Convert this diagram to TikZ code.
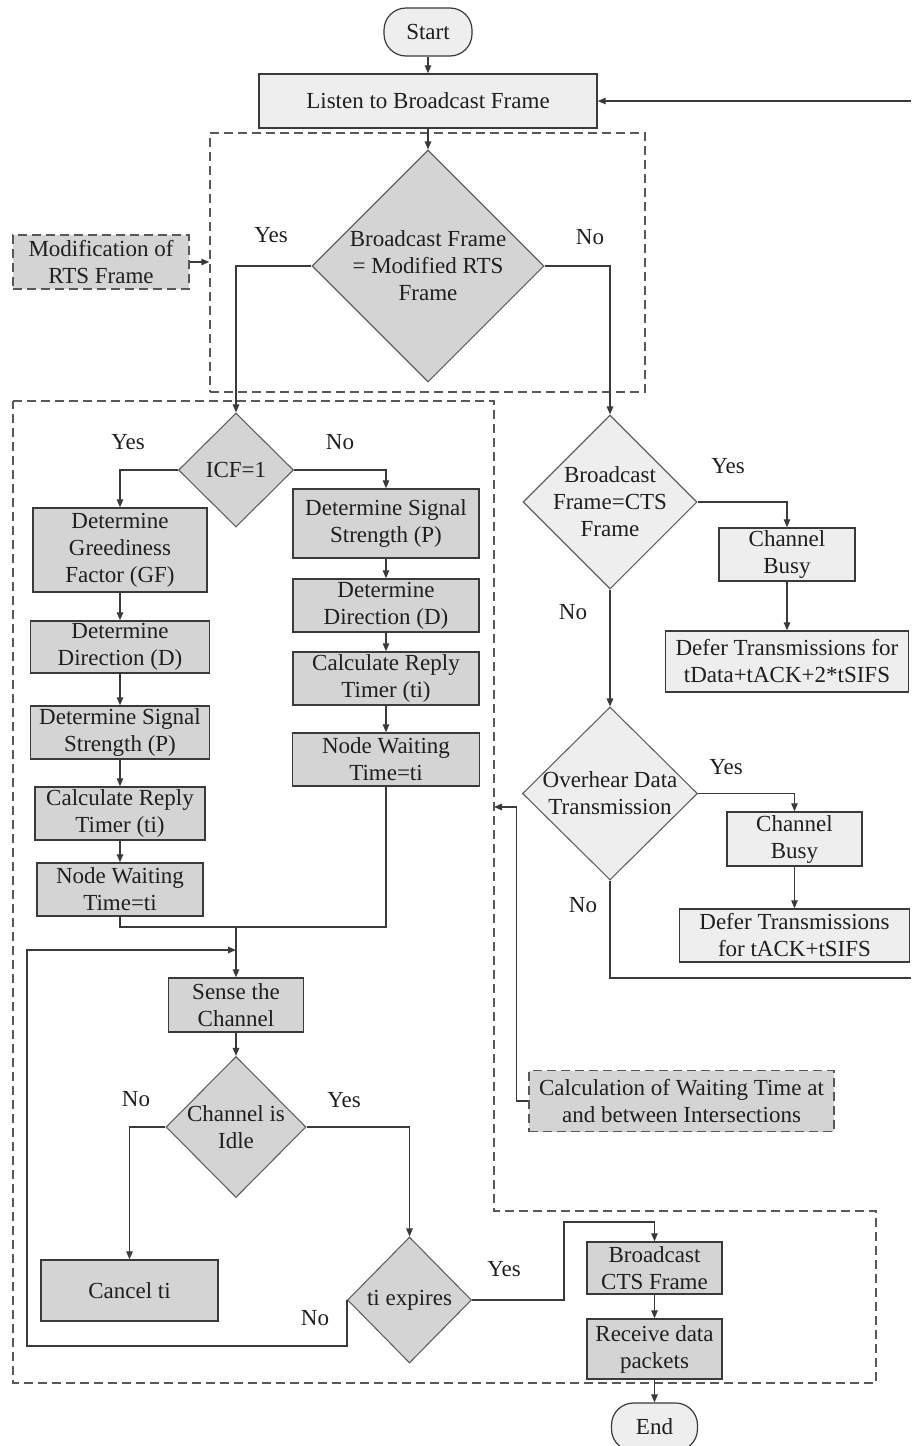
\documentclass[tikz,border=0pt]{standalone}
\usepackage{fontspec}
\setmainfont{Liberation Serif}
\usetikzlibrary{arrows.meta,shapes.geometric}
\definecolor{dk}{HTML}{D4D4D4}
\definecolor{lt}{HTML}{EEEEEE}
\definecolor{ln}{HTML}{3A3A3A}
\begin{document}
\begin{tikzpicture}[x=1pt,y=-1pt,
  every node/.style={font=\fontsize{23}{27}\selectfont, text=black!88},
  box/.style={rectangle, draw=ln, line width=1.4pt, inner sep=0pt, align=center},
  dbox/.style={box, fill=dk},
  lbox/.style={box, fill=lt},
  term/.style={rectangle, rounded corners=22pt, draw=ln, line width=1.2pt, fill=lt, minimum width=88pt, minimum height=48pt, inner sep=0pt},
  dec/.style={diamond, draw=ln!80, line width=1.1pt, inner sep=0pt},
  ddec/.style={dec, fill=dk},
  ldec/.style={dec, fill=lt},
  dtx/.style={align=center, inner sep=0pt, font=\fontsize{23}{27}\selectfont},
  grp/.style={draw=ln!85, line width=1.5pt, dash pattern=on 9pt off 5pt},
  lab/.style={inner sep=0pt},
  conn/.style={draw=ln, line width=1.3pt},
  arr/.style={conn, -{Triangle[length=8pt,width=6.5pt]}}
]
\useasboundingbox (0,0) rectangle (911,1446);

% groups
\node[grp, rectangle, minimum width=435pt, minimum height=259pt, inner sep=0pt] (grp1) at (427.5,262.5) {};
\draw[grp] (13,401) -- (494,401) -- (494,1211) -- (876,1211) -- (876,1383) -- (13,1383) -- cycle;
\coordinate (g2e) at (494,807);

% top
\node[term] (start) at (428,32) {Start};
\node[lbox, minimum width=338pt, minimum height=54pt] (listen) at (428,101) {Listen to Broadcast Frame};
\node[ddec, minimum width=232pt, minimum height=232pt,
  label={[dtx]center:{Broadcast Frame\\= Modified RTS\\Frame}}] (d1) at (428,266) {};
\node[dbox, grp, fill=dk, minimum width=176pt, minimum height=54pt] (mod) at (101,262) {Modification of\\RTS Frame};

% ICF
\node[ddec, minimum width=115pt, minimum height=114pt, label={[dtx]center:{ICF=1}}] (icf) at (236,470) {};

% left column
\node[dbox, minimum width=174pt, minimum height=84pt] (gf) at (120,550) {Determine\\Greediness\\Factor (GF)};
\node[dbox, minimum width=179pt, minimum height=52pt] (dir1) at (120,647) {Determine\\Direction (D)};
\node[dbox, minimum width=179pt, minimum height=53pt] (sig1) at (120,732.5) {Determine Signal\\Strength (P)};
\node[dbox, minimum width=170pt, minimum height=53pt] (calc1) at (120,813.5) {Calculate Reply\\Timer (ti)};
\node[dbox, minimum width=166pt, minimum height=53pt] (wait1) at (120,889.5) {Node Waiting\\Time=ti};

% right column
\node[dbox, minimum width=186pt, minimum height=69pt] (sig2) at (386,523.5) {Determine Signal\\Strength (P)};
\node[dbox, minimum width=186pt, minimum height=53pt] (dir2) at (386,605.5) {Determine\\Direction (D)};
\node[dbox, minimum width=186pt, minimum height=53pt] (calc2) at (386,678.5) {Calculate Reply\\Timer (ti)};
\node[dbox, minimum width=187pt, minimum height=53pt] (wait2) at (386,759.5) {Node Waiting\\Time=ti};

% lower part
\coordinate (join) at (236,927);
\coordinate (loopin) at (236,950);
\coordinate (lp) at (27,1346);
\node[dbox, minimum width=135pt, minimum height=54pt] (sense) at (236,1005) {Sense the\\Channel};
\node[ddec, minimum width=140pt, minimum height=141pt, label={[dtx]center:{Channel is\\Idle}}] (idle) at (236,1127) {};
\node[dbox, minimum width=177pt, minimum height=61pt] (cancel) at (129.5,1290.5) {Cancel ti};
\node[ddec, minimum width=124pt, minimum height=126pt, label={[dtx]center:{ti expires}}] (tie) at (409.5,1300) {};
\coordinate (ty) at (564,1222);
\node[dbox, minimum width=135pt, minimum height=52pt] (bcts) at (654.5,1268) {Broadcast\\CTS Frame};
\node[dbox, minimum width=135pt, minimum height=60pt] (recv) at (654.5,1349) {Receive data\\packets};
\node[term, minimum width=86pt] (end) at (654.5,1427) {End};

% right branch
\node[ldec, minimum width=174pt, minimum height=174pt, label={[dtx]center:{Broadcast\\Frame=CTS\\Frame}}] (cts) at (610,502) {};
\node[lbox, minimum width=136pt, minimum height=53pt] (busy1) at (787,554.5) {Channel\\Busy};
\node[lbox, minimum width=243pt, minimum height=61pt] (defer1) at (787,661.5) {Defer Transmissions for\\tData+tACK+2*tSIFS};
\node[ldec, minimum width=175pt, minimum height=173pt, label={[dtx]center:{Overhear Data\\Transmission}}] (over) at (610,793.5) {};
\node[lbox, minimum width=135pt, minimum height=54pt] (busy2) at (794.5,839) {Channel\\Busy};
\node[lbox, minimum width=230pt, minimum height=53pt] (defer2) at (794.5,935.5) {Defer Transmissions\\for tACK+tSIFS};
\coordinate (r1) at (911,978);
\coordinate (r2) at (911,101);
\node[dbox, grp, fill=dk, minimum width=305pt, minimum height=61pt] (calcw) at (681.5,1101) {Calculation of Waiting Time at\\and between Intersections};

% labels
\node[lab] (y1) at (271,235) {Yes};
\node[lab] (n1) at (590,237) {No};
\node[lab] (y2) at (128,442) {Yes};
\node[lab] (n2) at (340,442) {No};
\node[lab] (y3) at (728,466) {Yes};
\node[lab] (n3) at (573,612) {No};
\node[lab] (y4) at (726,767) {Yes};
\node[lab] (n4) at (583,905) {No};
\node[lab] (n5) at (136,1099) {No};
\node[lab] (y5) at (344,1100) {Yes};
\node[lab] (n6) at (315,1318) {No};
\node[lab] (y6) at (504,1269) {Yes};

% connectors
\draw[arr] (start) -- (listen);
\draw[arr] (listen) -- (d1);
\draw[arr] (mod.east) -- (mod.east -| grp1.west);
\draw[arr] (d1.west) -| (icf.north);
\draw[arr] (d1.east) -| (cts.north);
\draw[arr] (icf.west) -| (gf.north);
\draw[arr] (icf.east) -| (sig2.north);
\draw[arr] (gf) -- (dir1);
\draw[arr] (dir1) -- (sig1);
\draw[arr] (sig1) -- (calc1);
\draw[arr] (calc1) -- (wait1);
\draw[arr] (sig2) -- (dir2);
\draw[arr] (dir2) -- (calc2);
\draw[arr] (calc2) -- (wait2);
\draw[conn] (wait1.south) |- (join) -| (wait2.south);
\draw[arr] (join) -- (sense.north);
\draw[arr] (tie.west) |- (lp) |- (loopin);
\draw[arr] (sense) -- (idle);
\draw[arr] (idle.west) -| (cancel.north);
\draw[arr] (idle.east) -| (tie.north);
\draw[arr] (tie.east) -| (ty) -| (bcts.north);
\draw[arr] (bcts) -- (recv);
\draw[arr] (recv) -- (end);
\draw[arr] (cts.east) -| (busy1.north);
\draw[arr] (busy1) -- (defer1);
\draw[arr] (cts.south) -- (over.north);
\draw[arr] (over.east) -| (busy2.north);
\draw[arr] (busy2) -- (defer2);
\draw[conn] (over.south) |- (r1);
\draw[arr] (r2) -- (listen.east);
\draw[arr] (calcw.west) -- ++(-12,0) |- (g2e);
\end{tikzpicture}
\end{document}
